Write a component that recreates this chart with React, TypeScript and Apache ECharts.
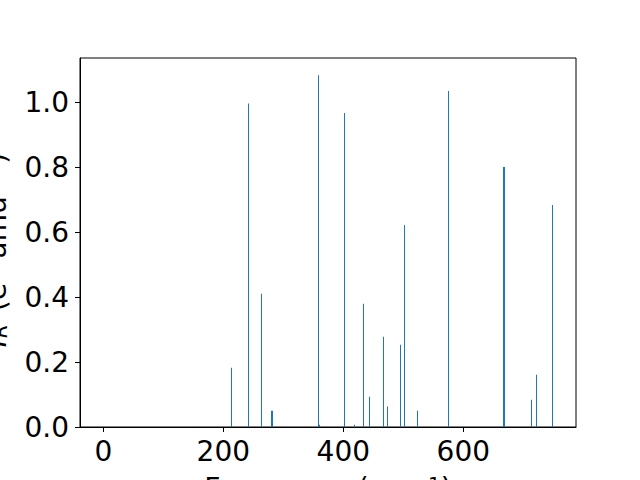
import React, { useEffect, useRef } from "react";
import * as echarts from "echarts";

const frequencies = [213.3, 242.3, 263.3, 280.0, 281.5, 358.3, 360.0, 401.7, 418.4, 433.4, 443.4, 466.7, 473.4, 495.0, 501.7, 523.4, 575.0, 666.5, 668.0, 713.4, 721.7, 748.4];
const intensities = [0.183, 0.998, 0.411, 0.050, 0.050, 1.085, 0.007, 0.968, 0.007, 0.380, 0.093, 0.278, 0.063, 0.254, 0.623, 0.050, 1.036, 0.802, 0.802, 0.084, 0.161, 0.685];
const xTicks = [0, 200, 400, 600];
const yTicks = [0, 0.2, 0.4, 0.6, 0.8, 1.0];

const FONT = "'DejaVu Sans', sans-serif";

export default function App() {
  const ref = useRef<HTMLDivElement>(null);
  useEffect(() => {
    if (!ref.current) return;
    const chart = echarts.init(ref.current, undefined, { renderer: "svg" });
    const data = frequencies.map((f, i) => [f, intensities[i]]);
    const main = { fontFamily: FONT, fontSize: 28, fill: "#000", lineHeight: 40, verticalAlign: "bottom" };
    chart.setOption({
      animation: false,
      grid: {
        left: 80,
        right: 64,
        top: 58,
        bottom: 53,
        show: true,
        borderColor: "#000",
        borderWidth: 1,
        backgroundColor: "transparent",
      },
      xAxis: {
        type: "value",
        min: -38.9,
        max: 787.8,
        splitLine: { show: false },
        axisLine: { show: true, onZero: false, lineStyle: { color: "#000", width: 1 } },
        axisTick: { show: true, length: 5, lineStyle: { color: "#000" }, customValues: xTicks },
        axisLabel: {
          customValues: xTicks,
          color: "#000",
          fontFamily: FONT,
          fontSize: 28,
          margin: 10,
          formatter: (v: number) => String(Math.round(v)),
        },
      },
      yAxis: {
        type: "value",
        min: 0,
        max: 1.138,
        splitLine: { show: false },
        axisLine: { show: true, onZero: false, lineStyle: { color: "#000", width: 1 } },
        axisTick: { show: true, length: 5, lineStyle: { color: "#000" }, customValues: yTicks },
        axisLabel: {
          customValues: yTicks,
          color: "#000",
          fontFamily: FONT,
          fontSize: 28,
          margin: 11,
          formatter: (v: number) => v.toFixed(1),
        },
      },
      graphic: [
        {
          type: "text",
          x: -10,
          y: 250,
          rotation: Math.PI / 2,
          style: {
            text: "{i|I}{sub|R}{n| (e}{sup|2}{n| amu}{sup|−1}{n|)}",
            textAlign: "center",
            textVerticalAlign: "middle",
            fill: "#000",
            rich: {
              i: { ...main, fontStyle: "italic" },
              sub: { fontFamily: FONT, fontSize: 20, fontStyle: "italic", fill: "#000", lineHeight: 20, verticalAlign: "bottom", padding: [0, 4, 0, 1] },
              n: main,
              sup: { fontFamily: FONT, fontSize: 20, fill: "#000", lineHeight: 20, verticalAlign: "top", padding: [0, 2, 0, 1] },
            },
          },
        },
        {
          type: "text",
          x: 328,
          y: 488,
          style: {
            text: "Frequency (cm{sup|−1})",
            textAlign: "center",
            textVerticalAlign: "middle",
            fontFamily: FONT,
            fontSize: 28,
            fill: "#000",
            rich: {
              sup: { fontFamily: FONT, fontSize: 20, fill: "#000", verticalAlign: "top" },
            },
          },
        },
      ],
      series: [
        {
          type: "custom",
          data,
          silent: true,
          renderItem: (params: any, api: any) => {
            const x = api.value(0);
            const y = api.value(1);
            const top = api.coord([x, y]);
            const base = api.coord([x, 0]);
            return {
              type: "rect",
              shape: {
                x: Math.floor(top[0]),
                y: top[1],
                width: 1,
                height: base[1] - top[1],
              },
              style: { fill: "#1f77b4" },
            };
          },
        },
      ],
    });
    return () => chart.dispose();
  }, []);
  return <div ref={ref} style={{ width: 640, height: 480, position: "absolute", left: 0, top: 0 }} />;
}
